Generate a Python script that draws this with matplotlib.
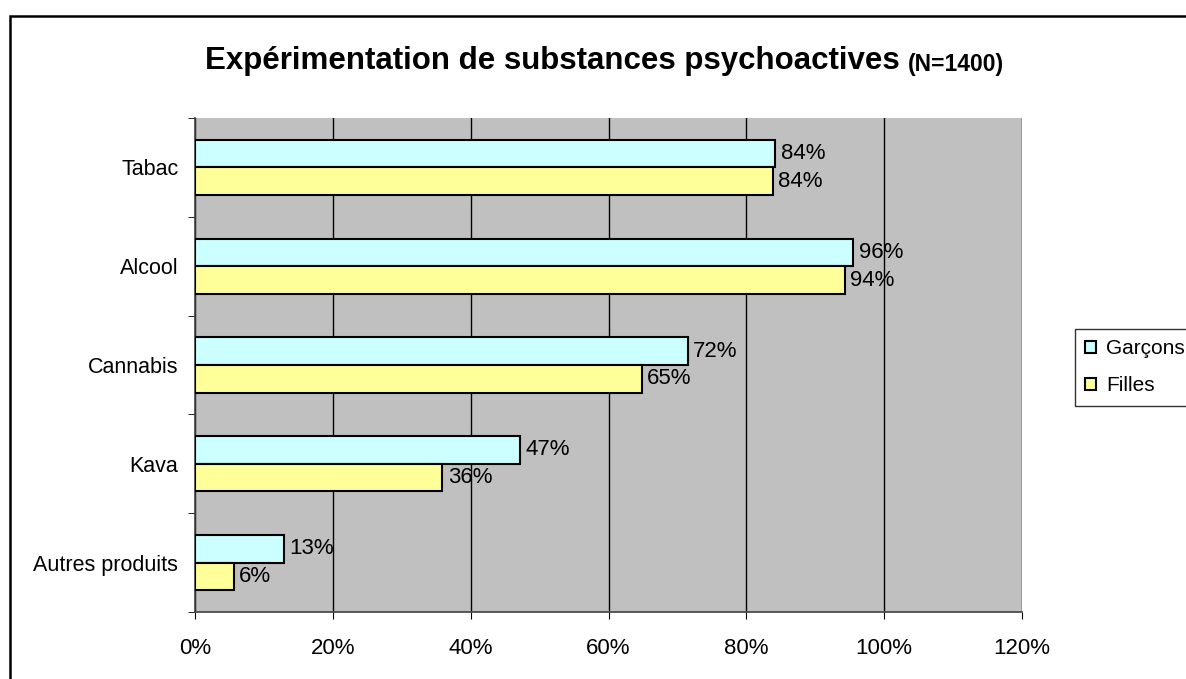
import numpy as np
import matplotlib.pyplot as plt
from matplotlib.patches import Rectangle

plt.rcParams['font.family'] = ['Liberation Sans', 'DejaVu Sans']

categories = ['Tabac', 'Alcool', 'Cannabis', 'Kava', 'Autres produits']
garcons = [84.2, 95.5, 71.5, 47.2, 12.9]
filles = [83.8, 94.3, 64.8, 35.9, 5.6]
xticks = [0, 20, 40, 60, 80, 100, 120]

W, H = 1186, 679
fig = plt.figure(figsize=(W / 100, H / 100), dpi=100)
ax = fig.add_axes([195 / W, 1 - 612 / H, (1022 - 195) / W, (612 - 118) / H])
ax.set_facecolor('#C0C0C0')

# outer frame of the chart (cut at right / bottom like the original)
fig.patches.append(Rectangle((10 / W, -0.1), 1.2, 1 - 16 / H + 0.1,
                             transform=fig.transFigure, fill=False,
                             edgecolor='black', lw=1.8, clip_on=False))

y = np.arange(len(categories))
h = 0.28
bg = ax.barh(y - h / 2, garcons, height=h, color='#CCFFFF', edgecolor='black',
             lw=1.5, label='Garçons', zorder=3)
bf = ax.barh(y + h / 2, filles, height=h, color='#FFFF99', edgecolor='black',
             lw=1.5, label='Filles', zorder=3)

for bars, vals in ((bg, garcons), (bf, filles)):
    for b, v in zip(bars, vals):
        ax.annotate(f'{v:.0f}%', (v, b.get_y() + b.get_height() / 2),
                    xytext=(4, 0), textcoords='offset points',
                    va='center', ha='left', fontsize=16, zorder=4)

ax.set_xlim(0, 120)
ax.set_ylim(len(categories) - 0.5, -0.5)
ax.set_xticks(xticks)
ax.set_xticklabels([f'{t}%' for t in xticks], fontsize=16)
ax.tick_params(axis='x', length=5, pad=14, color='black')
ax.xaxis.grid(True, color='black', lw=1)
ax.set_axisbelow(True)

ax.set_yticks(y)
ax.set_yticklabels(categories, fontsize=15.5)
ax.tick_params(axis='y', which='major', length=0, pad=12)
ax.set_yticks(np.arange(-0.5, len(categories)), minor=True)
ax.tick_params(axis='y', which='minor', length=5, color='black')

for s in ('top', 'right'):
    ax.spines[s].set_visible(False)
for s in ('left', 'bottom'):
    ax.spines[s].set_color('#404040')
    ax.spines[s].set_linewidth(1.2)

t = fig.text(205 / W, 1 - 69 / H, 'Expérimentation de substances psychoactives',
             fontsize=22.5, fontweight='bold', va='baseline', ha='left')
ax.annotate('(N=1400)', xy=(1, 0), xycoords=t, xytext=(6, 0),
            textcoords='offset points', fontsize=16.5, fontweight='bold',
            va='bottom', ha='left', annotation_clip=False)

leg = fig.legend(loc='upper left', bbox_to_anchor=(1075 / W, 1 - 329 / H),
                 frameon=True, fancybox=False, edgecolor='black', fontsize=15,
                 handlelength=0.5, handleheight=0.5, handletextpad=0.5,
                 borderaxespad=0, labelspacing=0.85, borderpad=0.5)
leg.get_frame().set_linewidth(1)

fig.savefig('out.png', dpi=100)
